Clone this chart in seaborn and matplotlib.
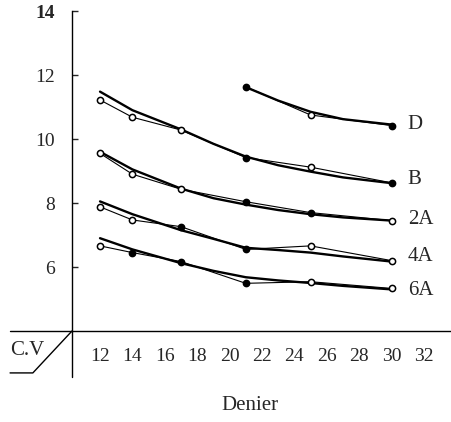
import numpy as np
import pandas as pd
import matplotlib
matplotlib.use("Agg")
import matplotlib.pyplot as plt
import seaborn as sns

# ---- data ----
series = ["D", "B", "2A", "4A", "6A"]

# measured points (denier, C.V %)
x_pts = [12, 14, 17, 21, 25, 30]
d_x = [21, 25, 30]
d_y = [11.63, 10.75, 10.42]
b_y = [11.22, 10.68, 10.28, 9.42, 9.12, 8.63]
a2_y = [9.55, 8.90, 8.43, 8.04, 7.70, 7.45]
a4_y = [7.88, 7.47, 7.26, 6.55, 6.66, 6.20]
a6_y = [6.66, 6.45, 6.17, 5.49, 5.54, 5.33]

# filled (True) or open (False) marker per point
d_fill = [True, False, True]
b_fill = [False, False, False, True, False, True]
a2_fill = [False, False, False, True, True, False]
a4_fill = [False, False, True, True, False, False]
a6_fill = [False, True, True, True, False, False]

# smoothed trend curves
fit_x = [12, 14, 17, 19, 21, 23, 25, 27, 30]
d_fit_x = [21, 23, 25, 27, 30]
d_fit = [11.62, 11.20, 10.85, 10.62, 10.45]
b_fit = [11.48, 10.90, 10.30, 9.85, 9.45, 9.18, 8.98, 8.80, 8.62]
a2_fit = [9.60, 9.05, 8.45, 8.15, 7.95, 7.78, 7.65, 7.55, 7.45]
a4_fit = [8.05, 7.65, 7.15, 6.88, 6.60, 6.53, 6.45, 6.33, 6.17]
a6_fit = [6.90, 6.55, 6.12, 5.88, 5.68, 5.58, 5.50, 5.41, 5.30]

x_ticks = list(range(12, 33, 2))
y_ticks = [6, 8, 10, 12, 14]

pts = pd.concat([
    pd.DataFrame({"grade": "D", "denier": d_x, "cv": d_y, "filled": d_fill}),
    pd.DataFrame({"grade": "B", "denier": x_pts, "cv": b_y, "filled": b_fill}),
    pd.DataFrame({"grade": "2A", "denier": x_pts, "cv": a2_y, "filled": a2_fill}),
    pd.DataFrame({"grade": "4A", "denier": x_pts, "cv": a4_y, "filled": a4_fill}),
    pd.DataFrame({"grade": "6A", "denier": x_pts, "cv": a6_y, "filled": a6_fill}),
], ignore_index=True)

fits = pd.concat([
    pd.DataFrame({"grade": "D", "denier": d_fit_x, "cv": d_fit}),
    pd.DataFrame({"grade": "B", "denier": fit_x, "cv": b_fit}),
    pd.DataFrame({"grade": "2A", "denier": fit_x, "cv": a2_fit}),
    pd.DataFrame({"grade": "4A", "denier": fit_x, "cv": a4_fit}),
    pd.DataFrame({"grade": "6A", "denier": fit_x, "cv": a6_fit}),
], ignore_index=True)

sns.set_theme(style="white")
plt.rcParams["font.family"] = ["Liberation Serif", "DejaVu Serif"]

fig = plt.figure(figsize=(4.52, 4.22), dpi=100)
ax = fig.add_axes([72 / 452, 91 / 422, 380 / 452, 320 / 422])

black = {g: "black" for g in series}

# thin lines joining the measured points
sns.lineplot(data=pts, x="denier", y="cv", hue="grade", palette=black,
             estimator=None, sort=False, lw=0.8, legend=False, ax=ax)
# thick trend curves
sns.lineplot(data=fits, x="denier", y="cv", hue="grade", palette=black,
             estimator=None, sort=False, lw=1.7, legend=False, ax=ax)
# markers: filled and open
sns.scatterplot(data=pts[pts["filled"]], x="denier", y="cv", color="black",
                edgecolor="black", s=20, linewidth=1.1, zorder=5, ax=ax)
sns.scatterplot(data=pts[~pts["filled"]], x="denier", y="cv", color="white",
                edgecolor="black", s=20, linewidth=1.1, zorder=5, ax=ax)

# series labels at the end of each curve
nudge = {"D": 0.0, "B": 0.1, "2A": 0.02, "4A": 0.17, "6A": -0.02}
for g in series:
    last = fits[fits["grade"] == g].iloc[-1]
    ax.text(31.0, last["cv"] + nudge[g], g, fontsize=15, va="center", ha="left")

ax.set_xlim(10.27, 33.73)
ax.set_ylim(4, 14)
ax.set_xticks(x_ticks)
ax.set_yticks(y_ticks)
ax.set_xticklabels([str(v) for v in x_ticks], fontsize=14)
ax.set_yticklabels([str(v) for v in y_ticks], fontsize=14)
ax.get_yticklabels()[-1].set_fontweight("bold")
ax.tick_params(axis="x", length=0, pad=12)
ax.tick_params(axis="y", direction="in", length=4, width=1, pad=12, left=True)
ax.set_xlabel("")
ax.set_ylabel("")

sns.despine(ax=ax, top=True, right=True)
for side in ["left", "bottom"]:
    ax.spines[side].set_color("black")
    ax.spines[side].set_linewidth(1.0)

# axis extensions and the C.V corner box
ax.plot([-0.163, 0], [0, 0], color="black", lw=1.0, transform=ax.transAxes, clip_on=False)
ax.plot([0, 0], [0, -0.144], color="black", lw=1.0, transform=ax.transAxes, clip_on=False)
ax.plot([0, -0.103, -0.163], [0, -0.131, -0.131], color="black", lw=1.0,
        transform=ax.transAxes, clip_on=False)
ax.text(-0.118, -0.062, "C.V", fontsize=15, ha="center", va="center",
        transform=ax.transAxes)

fig.text(250 / 452, 1 - 405 / 422, "Denier", fontsize=15, ha="center", va="center")

fig.savefig("out.png", dpi=100)
